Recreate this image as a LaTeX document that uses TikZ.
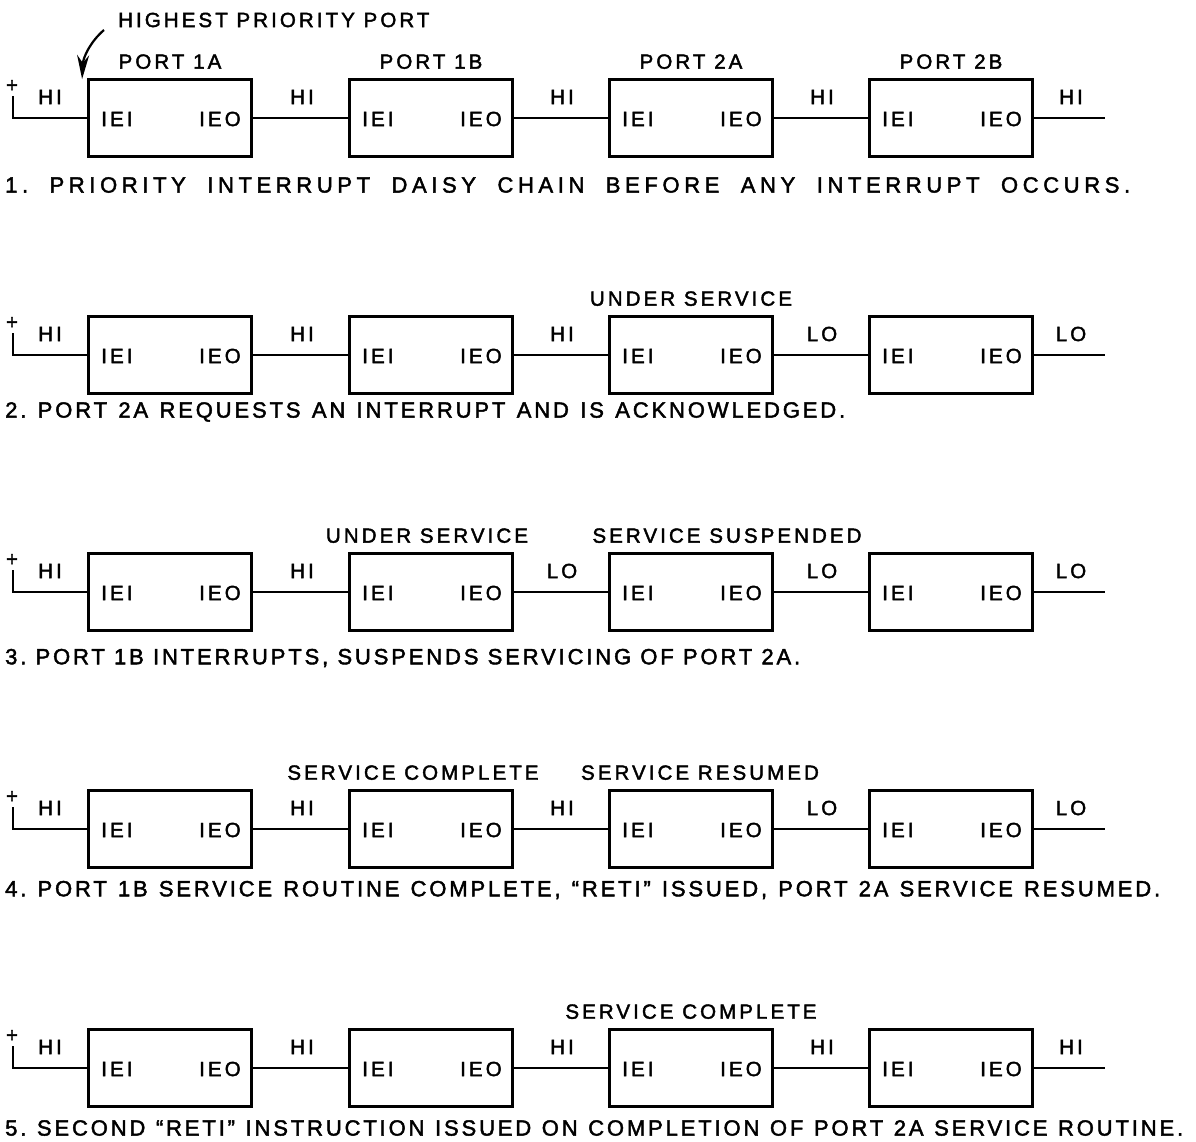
\documentclass[tikz,border=0pt]{standalone}
\usepackage{fontspec}
\setmainfont{Liberation Sans}[LetterSpace=15, FakeBold=2]
\newfontfamily\capfont{Liberation Sans}[LetterSpace=13, FakeBold=2]
\newfontfamily\capwidefont{Liberation Sans}[LetterSpace=21, FakeBold=2]
\usetikzlibrary{arrows.meta}

\newcommand{\capline}[2]{\hbox to #1pt{\frenchspacing #2}}

\tikzset{
  portbox/.style={draw, line width=2.8pt, minimum width=163pt, minimum height=77pt, inner sep=0pt},
  wire/.style={line width=2.4pt},
  lbl/.style={font=\fontsize{20.5}{24}\selectfont, inner sep=0pt},
  caption/.style={font=\capfont\fontsize{22}{26}\selectfont, inner sep=0pt, anchor=west},
}

\begin{document}
\hbadness=10000
\begin{tikzpicture}[x=1pt,y=-1pt]
        \useasboundingbox (0,0) rectangle (1196,1142);
        % the five states of the chain
        \foreach \r/\wy in {1/118,2/355,3/592,4/829,5/1068} {
            \foreach \p/\px in {1/170,2/431,3/691,4/951} {
                \node[portbox] (b\r\p) at (\px,\wy) {};
                \node[lbl, anchor=west] (iei\r\p) at ([xshift=14pt,yshift=-1pt]b\r\p.west) {IEI};
                \node[lbl, anchor=east] (ieo\r\p) at ([xshift=-12pt,yshift=-1pt]b\r\p.east) {IEO};
              }
            \coordinate (plus\r) at (13,\wy-22);
            \node[lbl] (sign\r) at (12,\wy-32) {+};
            \coordinate (end\r) at (1105,\wy);
            \draw[wire] (plus\r) |- (b\r1.west);
            \draw[wire] (b\r1.east) -- (b\r2.west) (b\r2.east) -- (b\r3.west)
                        (b\r3.east) -- (b\r4.west) (b\r4.east) -- (end\r);
          }
        % HI / LO on each link
        \foreach \r/\wy/\la/\lb/\lc/\ld/\le in {1/118/HI/HI/HI/HI/HI, 2/355/HI/HI/HI/LO/LO,
                3/592/HI/HI/LO/LO/LO, 4/829/HI/HI/HI/LO/LO, 5/1068/HI/HI/HI/HI/HI} {
            \node[lbl] (lv\r a) at (50,\wy-21) {\la};
            \node[lbl] (lv\r b) at (302,\wy-21) {\lb};
            \node[lbl] (lv\r c) at (562,\wy-21) {\lc};
            \node[lbl] (lv\r d) at (822,\wy-21) {\ld};
            \node[lbl] (lv\r e) at (1071,\wy-21) {\le};
          }
        % port names and states
        \foreach \p/\nm in {1/1A,2/1B,3/2A,4/2B} {
            \node[lbl, above=9pt] (pname\p) at (b1\p.north) {PORT \nm};
          }
        \node[lbl, above=9pt] (st2c) at (b23.north) {UNDER SERVICE};
        \node[lbl, above=9pt] (st3b) at ([xshift=-4pt]b32.north) {UNDER SERVICE};
        \node[lbl, above=9pt] (st3c) at ([xshift=36pt]b33.north) {SERVICE SUSPENDED};
        \node[lbl, above=9pt] (st4b) at ([xshift=-18pt]b42.north) {SERVICE COMPLETE};
        \node[lbl, above=9pt] (st4c) at ([xshift=9pt]b43.north) {SERVICE RESUMED};
        \node[lbl, above=9pt] (st5c) at (b53.north) {SERVICE COMPLETE};
        % highest priority marker
        \node[lbl, anchor=west] (hpp) at (118,20) {HIGHEST PRIORITY PORT};
        \coordinate (hpptail) at (104,30);
        \draw[line width=2.2pt, -{Stealth[length=24pt,width=12pt]}] (hpptail) .. controls (90,42) and (83,58) .. ([xshift=-5pt,yshift=-1pt]b11.north west);
        % captions
        \node[caption, font=\capwidefont\fontsize{22}{26}\selectfont] (cap1) at (5,185) {\capline{1125}{1. PRIORITY INTERRUPT DAISY CHAIN BEFORE ANY INTERRUPT OCCURS.}};
        \node[caption] (cap2) at (5,412) {\capline{840}{2. PORT 2A REQUESTS AN INTERRUPT AND IS ACKNOWLEDGED.}};
        \node[caption] (cap3) at (5,658) {\capline{795}{3. PORT 1B INTERRUPTS, SUSPENDS SERVICING OF PORT 2A.}};
        \node[caption] (cap4) at (5,890) {\capline{1155}{4. PORT 1B SERVICE ROUTINE COMPLETE, “RETI” ISSUED, PORT 2A SERVICE RESUMED.}};
        \node[caption] (cap5) at (5,1128) {\capline{1178}{5. SECOND “RETI” INSTRUCTION ISSUED ON COMPLETION OF PORT 2A SERVICE ROUTINE.}};
      \end{tikzpicture}
\end{document}
